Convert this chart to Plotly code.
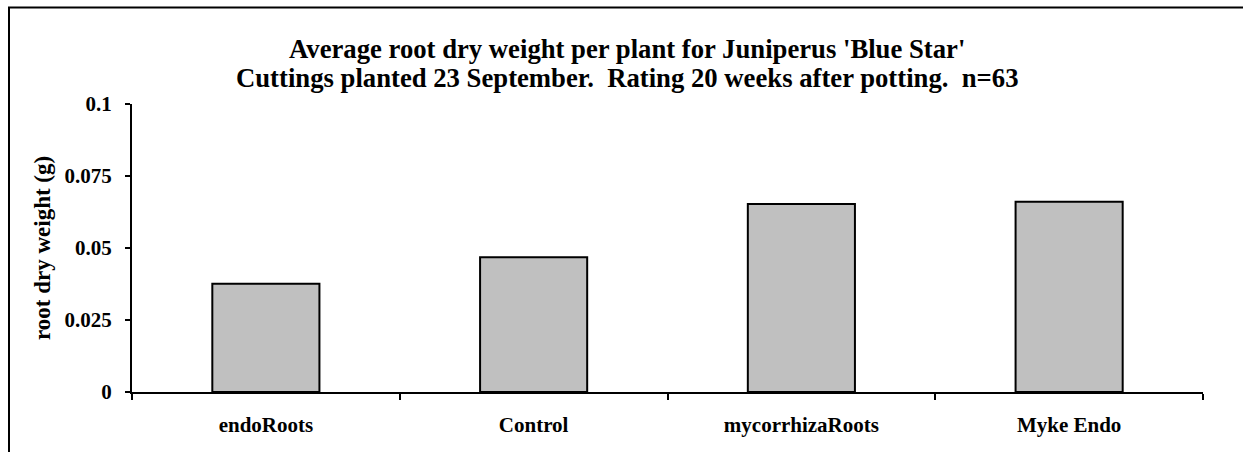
import plotly.graph_objects as go

categories = ["endoRoots", "Control", "mycorrhizaRoots", "Myke Endo"]
root_dry_weight = [0.0376, 0.0468, 0.0653, 0.0661]
y_tick_values = [0, 0.025, 0.05, 0.075, 0.1]
y_tick_labels = ["0", "0.025", "0.05", "0.075", "0.1"]

W, H = 1243, 452
L, R, T, B = 132, 40, 104, 60
pw, ph = W - L - R, H - T - B


def px_x(px):
    return (px - L) / pw


def px_y(py):
    return (H - B - py) / ph


font = dict(family="Liberation Serif, Times New Roman, serif", color="black")

fig = go.Figure(
    go.Bar(
        x=categories,
        y=root_dry_weight,
        marker=dict(color="#C0C0C0", line=dict(color="black", width=2)),
        width=0.4,
    )
)

fig.update_layout(
    width=W,
    height=H,
    margin=dict(l=L, r=R, t=T, b=B),
    paper_bgcolor="white",
    plot_bgcolor="white",
    showlegend=False,
    font=dict(**font, size=21),
    xaxis=dict(
        showline=True,
        linecolor="black",
        linewidth=2,
        ticks="outside",
        tickson="boundaries",
        ticklen=6,
        tickwidth=2,
        tickcolor="black",
        showgrid=False,
        ticklabelstandoff=13,
        tickfont=dict(**font, size=21),
        tickprefix="<b>",
        ticksuffix="</b>",
    ),
    yaxis=dict(
        range=[0, 0.1],
        tickvals=y_tick_values,
        ticktext=["<b>" + t + "</b>" for t in y_tick_labels],
        showline=True,
        linecolor="black",
        linewidth=2,
        ticks="outside",
        ticklen=5,
        tickwidth=2,
        tickcolor="black",
        showgrid=False,
        zeroline=False,
        ticklabelstandoff=9,
        tickfont=dict(**font, size=21),
    ),
    annotations=[
        dict(
            text="<b>Average root dry weight per plant for Juniperus 'Blue Star'</b>",
            xref="paper",
            yref="paper",
            x=px_x(627),
            y=px_y(49),
            xanchor="center",
            yanchor="middle",
            showarrow=False,
            font=dict(**font, size=26.7),
        ),
        dict(
            text="<b>Cuttings planted 23 September.  Rating 20 weeks after potting.  n=63</b>",
            xref="paper",
            yref="paper",
            x=px_x(627),
            y=px_y(78),
            xanchor="center",
            yanchor="middle",
            showarrow=False,
            font=dict(**font, size=26.7),
        ),
        dict(
            text="<b>root dry weight (g)</b>",
            textangle=-90,
            xref="paper",
            yref="paper",
            x=px_x(42),
            y=0.5,
            xanchor="center",
            yanchor="middle",
            showarrow=False,
            font=dict(**font, size=23),
        ),
    ],
    shapes=[
        dict(
            type="rect",
            xref="paper",
            yref="paper",
            x0=px_x(9),
            x1=px_x(1265),
            y0=px_y(475),
            y1=px_y(7.5),
            line=dict(color="black", width=2),
            fillcolor="rgba(0,0,0,0)",
            layer="below",
        )
    ],
)

fig.write_html(
    "out.html",
    config={"displayModeBar": False},
    post_script="document.body.style.margin='0';document.body.style.overflow='hidden';",
)
